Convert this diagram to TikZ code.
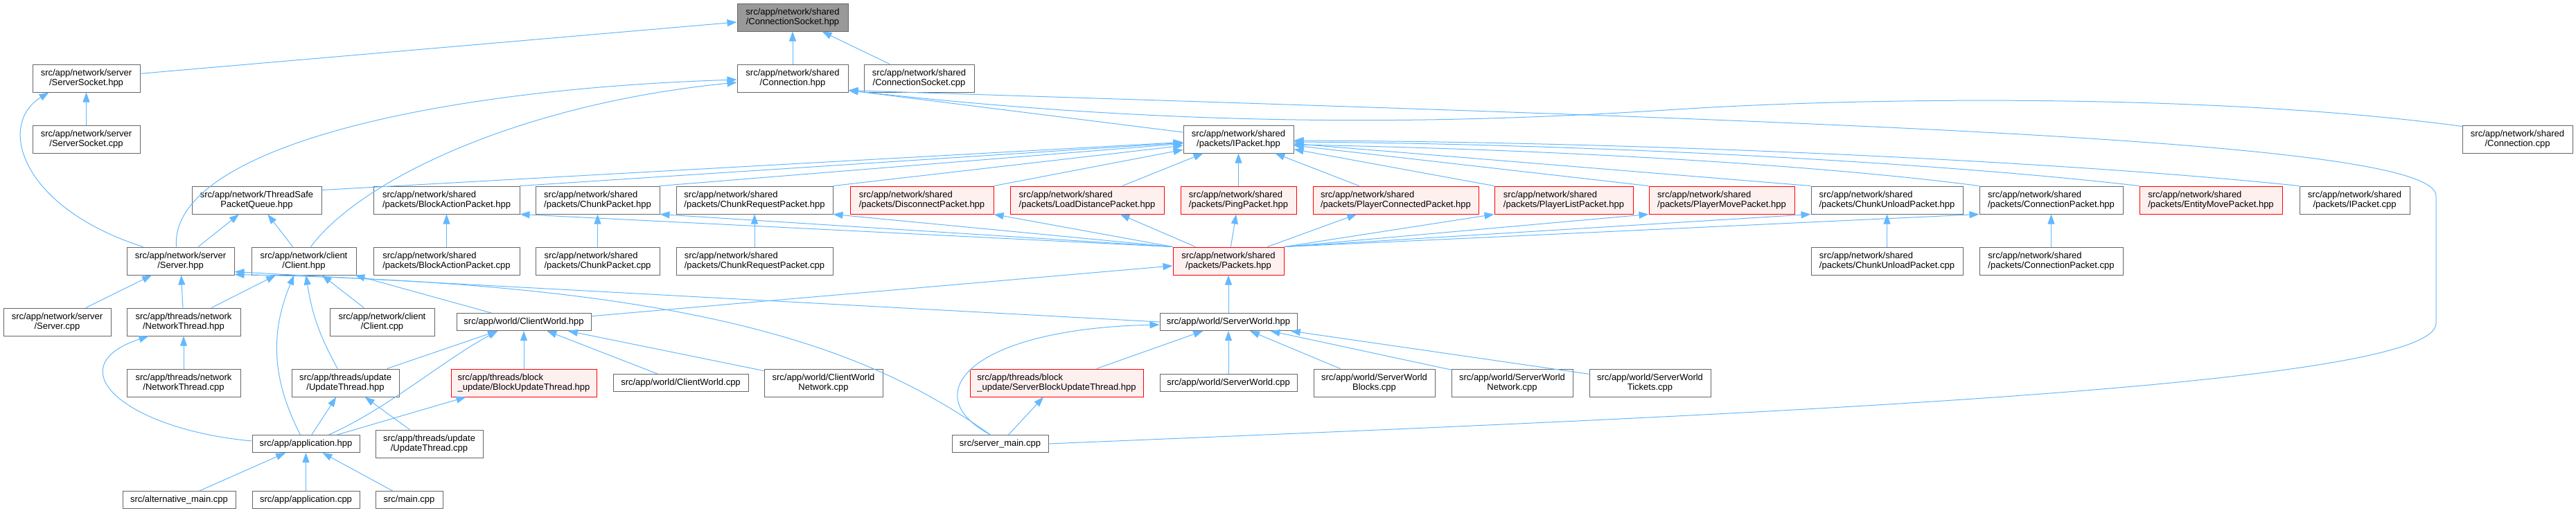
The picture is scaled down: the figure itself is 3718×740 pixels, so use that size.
\documentclass[tikz,border=0pt]{standalone}
\usepackage{fontspec}
\setmainfont{Liberation Sans}
\usepackage{xcolor}
\usepackage{tikz}
\usetikzlibrary{arrows.meta}
\definecolor{edgeblue}{HTML}{63B8FF}
\definecolor{boxborder}{HTML}{666666}
\definecolor{rootgray}{HTML}{999999}
\definecolor{truncred}{HTML}{FF0000}
\definecolor{truncfill}{HTML}{FFF0F0}
\newcommand{\filefont}{\fontsize{13}{14.7}\selectfont}

\begin{document}
\begin{tikzpicture}[x=1pt, y=-1pt,
  filebox/.style={draw=boxborder, fill=white, line width=1pt, inner sep=0pt, minimum height=40pt, font=\filefont, align=center},
  onebox/.style={filebox, minimum height=25pt},
  redbox/.style={draw=truncred, fill=truncfill},
  rootbox/.style={fill=rootgray},
  lalign/.style={align=left},
  incl/.style={draw=edgeblue, line width=1pt, -{Triangle[length=14pt, width=10pt]}}]
  \useasboundingbox (0,0) rectangle (3718,740);

  \node[filebox, rootbox, minimum width=160pt] (csHpp) at (1144,25) {src/app/network/shared\\/ConnectionSocket.hpp};

  \node[filebox, minimum width=155pt] (ssHpp) at (124.5,113) {src/app/network/server\\/ServerSocket.hpp};
  \node[filebox, minimum width=160pt] (connHpp) at (1144,113) {src/app/network/shared\\/Connection.hpp};
  \node[filebox, minimum width=159pt] (csCpp) at (1326.5,113) {src/app/network/shared\\/ConnectionSocket.cpp};

  \node[filebox, minimum width=155pt] (ssCpp) at (124.5,201) {src/app/network/server\\/ServerSocket.cpp};
  \node[filebox, minimum width=159pt] (ipHpp) at (1787.5,201) {src/app/network/shared\\/packets/IPacket.hpp};
  \node[filebox, minimum width=159pt] (connCpp) at (3633.5,201) {src/app/network/shared\\/Connection.cpp};

  \node[filebox, minimum width=187pt] (tsq) at (370.5,289) {src/app/network/ThreadSafe\\PacketQueue.hpp};
  \node[filebox, lalign, minimum width=211pt] (baHpp) at (644.5,289) {src/app/network/shared\\/packets/BlockActionPacket.hpp};
  \node[filebox, lalign, minimum width=179pt] (ckHpp) at (862.5,289) {src/app/network/shared\\/packets/ChunkPacket.hpp};
  \node[filebox, lalign, minimum width=226pt] (crHpp) at (1089,289) {src/app/network/shared\\/packets/ChunkRequestPacket.hpp};
  \node[filebox, redbox, lalign, minimum width=207pt] (dcHpp) at (1330.5,289) {src/app/network/shared\\/packets/DisconnectPacket.hpp};
  \node[filebox, redbox, lalign, minimum width=222pt] (ldHpp) at (1569,289) {src/app/network/shared\\/packets/LoadDistancePacket.hpp};
  \node[filebox, redbox, lalign, minimum width=167pt] (pgHpp) at (1787.5,289) {src/app/network/shared\\/packets/PingPacket.hpp};
  \node[filebox, redbox, lalign, minimum width=239pt] (pcHpp) at (2014.5,289) {src/app/network/shared\\/packets/PlayerConnectedPacket.hpp};
  \node[filebox, redbox, lalign, minimum width=200pt] (plHpp) at (2257,289) {src/app/network/shared\\/packets/PlayerListPacket.hpp};
  \node[filebox, redbox, lalign, minimum width=210pt] (pmHpp) at (2485,289) {src/app/network/shared\\/packets/PlayerMovePacket.hpp};
  \node[filebox, lalign, minimum width=219pt] (cuHpp) at (2723.5,289) {src/app/network/shared\\/packets/ChunkUnloadPacket.hpp};
  \node[filebox, lalign, minimum width=207pt] (cpHpp) at (2960.5,289) {src/app/network/shared\\/packets/ConnectionPacket.hpp};
  \node[filebox, redbox, lalign, minimum width=206pt] (emHpp) at (3191,289) {src/app/network/shared\\/packets/EntityMovePacket.hpp};
  \node[filebox, minimum width=159pt] (ipCpp) at (3398.5,289) {src/app/network/shared\\/packets/IPacket.cpp};

  \node[filebox, minimum width=155pt] (srvHpp) at (260.5,377) {src/app/network/server\\/Server.hpp};
  \node[filebox, minimum width=151pt] (cliHpp) at (438.5,377) {src/app/network/client\\/Client.hpp};
  \node[filebox, lalign, minimum width=211pt] (baCpp) at (644.5,377) {src/app/network/shared\\/packets/BlockActionPacket.cpp};
  \node[filebox, lalign, minimum width=179pt] (ckCpp) at (862.5,377) {src/app/network/shared\\/packets/ChunkPacket.cpp};
  \node[filebox, lalign, minimum width=226pt] (crCpp) at (1089,377) {src/app/network/shared\\/packets/ChunkRequestPacket.cpp};
  \node[filebox, redbox, minimum width=160pt] (pkHpp) at (1773,377) {src/app/network/shared\\/packets/Packets.hpp};
  \node[filebox, lalign, minimum width=219pt] (cuCpp) at (2723.5,377) {src/app/network/shared\\/packets/ChunkUnloadPacket.cpp};
  \node[filebox, lalign, minimum width=207pt] (cpCpp) at (2960.5,377) {src/app/network/shared\\/packets/ConnectionPacket.cpp};

  \node[filebox, minimum width=155pt] (srvCpp) at (82.5,465) {src/app/network/server\\/Server.cpp};
  \node[filebox, minimum width=164pt] (ntHpp) at (265,465) {src/app/threads/network\\/NetworkThread.hpp};
  \node[filebox, minimum width=151pt] (cliCpp) at (551.5,465) {src/app/network/client\\/Client.cpp};
  \node[onebox, minimum width=194pt] (cwHpp) at (756,465) {src/app/world/ClientWorld.hpp};
  \node[onebox, minimum width=198pt] (swHpp) at (1773,465) {src/app/world/ServerWorld.hpp};

  \node[filebox, minimum width=164pt] (ntCpp) at (265,553) {src/app/threads/network\\/NetworkThread.cpp};
  \node[filebox, minimum width=155pt] (utHpp) at (498.5,553) {src/app/threads/update\\/UpdateThread.hpp};
  \node[filebox, redbox, lalign, minimum width=210pt] (buHpp) at (756,553) {src/app/threads/block\\\_update/BlockUpdateThread.hpp};
  \node[onebox, minimum width=195pt] (cwCpp) at (982.5,553) {src/app/world/ClientWorld.cpp};
  \node[filebox, minimum width=171pt] (cwnCpp) at (1188.5,553) {src/app/world/ClientWorld\\Network.cpp};
  \node[filebox, redbox, lalign, minimum width=250pt] (sbuHpp) at (1525,553) {src/app/threads/block\\\_update/ServerBlockUpdateThread.hpp};
  \node[onebox, minimum width=198pt] (swCpp) at (1773,553) {src/app/world/ServerWorld.cpp};
  \node[filebox, minimum width=175pt] (swbCpp) at (1983.5,553) {src/app/world/ServerWorld\\Blocks.cpp};
  \node[filebox, minimum width=175pt] (swnCpp) at (2182.5,553) {src/app/world/ServerWorld\\Network.cpp};
  \node[filebox, minimum width=175pt] (swtCpp) at (2381.5,553) {src/app/world/ServerWorld\\Tickets.cpp};

  \node[onebox, minimum width=155pt] (appHpp) at (441.5,641) {src/app/application.hpp};
  \node[filebox, minimum width=155pt] (utCpp) at (619.5,641) {src/app/threads/update\\/UpdateThread.cpp};
  \node[onebox, minimum width=139pt] (smCpp) at (1443.5,641) {src/server\_main.cpp};

  \node[onebox, minimum width=163pt] (amCpp) at (258.5,722) {src/alternative\_main.cpp};
  \node[onebox, minimum width=155pt] (appCpp) at (441.5,722) {src/app/application.cpp};
  \node[onebox, minimum width=97pt] (mainCpp) at (590.5,722) {src/main.cpp};

  \draw[incl] (ssHpp) -- (csHpp);
  \draw[incl] (connHpp) -- (csHpp);
  \draw[incl] (csCpp) -- (csHpp);
  \draw[incl] (ssCpp) -- (ssHpp);
  \draw[incl] ([xshift=24pt]srvHpp.north west) .. controls (30,300) and (-5,180) .. ([xshift=24pt]ssHpp.south west);

  \draw[incl] ([xshift=-6pt]srvHpp.north) .. controls (245,220) and (600,130) .. ([yshift=-2pt]connHpp.west);
  \draw[incl] ([xshift=10pt]cliHpp.north) .. controls (520,260) and (750,150) .. ([yshift=-6pt]connHpp.west);
  \draw[incl] (ipHpp) -- ([yshift=3pt]connHpp.south east);
  \draw[incl] ([yshift=-2pt]connCpp.north west) .. controls (3200,135) and (2700,140) .. (2420,158)
    .. controls (2140,176) and (1750,190) .. ([yshift=3pt]connHpp.south east);
  \draw[incl] (smCpp.east) .. controls (2500,600) and (3516,560) .. (3516,467) -- (3516,283)
    .. controls (3516,200) and (2600,175) .. ([yshift=3pt]connHpp.south east);

  \draw[incl] ([yshift=-6pt]tsq.north east) -- (ipHpp);
  \draw[incl] (baHpp.north east) -- (ipHpp);
  \draw[incl] (ckHpp.north east) -- (ipHpp);
  \draw[incl] (crHpp.north east) -- (ipHpp);
  \draw[incl] (dcHpp.north east) -- (ipHpp);
  \draw[incl] (ldHpp) -- (ipHpp);
  \draw[incl] (pgHpp) -- (ipHpp);
  \draw[incl] (pcHpp) -- (ipHpp);
  \draw[incl] (plHpp.north west) -- (ipHpp);
  \draw[incl] (pmHpp.north west) -- (ipHpp);
  \draw[incl] (cuHpp.north west) -- (ipHpp);
  \draw[incl] (cpHpp.north west) .. controls (2600,235) and (2200,215) .. ([yshift=-8pt]ipHpp.east);
  \draw[incl] (emHpp.north west) .. controls (2800,235) and (2300,208) .. ([yshift=-4pt]ipHpp.east);
  \draw[incl] (ipCpp.north west) .. controls (3000,235) and (2400,205) .. ([yshift=-2pt]ipHpp.east);

  \draw[incl] (pkHpp.north west) -- (baHpp.south east);
  \draw[incl] (pkHpp.north west) -- (ckHpp.south east);
  \draw[incl] (pkHpp.north west) -- (crHpp.south east);
  \draw[incl] (pkHpp.north west) -- (dcHpp.south east);
  \draw[incl] (pkHpp) -- (ldHpp);
  \draw[incl] (pkHpp) -- (pgHpp);
  \draw[incl] (pkHpp) -- (pcHpp);
  \draw[incl] (pkHpp.north east) -- (plHpp.south west);
  \draw[incl] (pkHpp.north east) -- (pmHpp.south west);
  \draw[incl] (pkHpp.north east) -- (cuHpp.south west);
  \draw[incl] (pkHpp.north east) -- (cpHpp.south west);

  \draw[incl] (baCpp) -- (baHpp);
  \draw[incl] (ckCpp) -- (ckHpp);
  \draw[incl] (crCpp) -- (crHpp);
  \draw[incl] (cuCpp) -- (cuHpp);
  \draw[incl] (cpCpp) -- (cpHpp);

  \draw[incl] (srvHpp) -- (tsq);
  \draw[incl] (cliHpp) -- (tsq);
  \draw[incl] (srvCpp) -- (srvHpp);
  \draw[incl] (ntHpp) -- (srvHpp);
  \draw[incl] (ntHpp) -- (cliHpp);
  \draw[incl] (cliCpp) -- (cliHpp);
  \draw[incl] (swHpp.west) -- ([yshift=5pt]srvHpp.south east);
  \draw[incl] ([xshift=-14pt]smCpp.north) .. controls (1250,500) and (1000,410) .. ([yshift=1pt]srvHpp.south east);
  \draw[incl] (cwHpp) -- (cliHpp);
  \draw[incl] (utHpp) to[bend left=10] (cliHpp);
  \draw[incl] ([xshift=-8pt]appHpp.north) to[bend left=25] ([xshift=-14pt]cliHpp.south);
  \draw[incl] ([yshift=4pt]appHpp.west) .. controls (180,620) and (80,530) .. ([xshift=32pt]ntHpp.south west);
  \draw[incl] (appHpp) -- (utHpp);
  \draw[incl] ([xshift=-45pt]appHpp.north east) .. controls (560,590) and (640,520) .. ([xshift=60pt]cwHpp.south west);
  \draw[incl] ([xshift=-33pt]appHpp.north east) -- ([xshift=22pt]buHpp.south west);
  \draw[incl] (utHpp) -- (cwHpp);
  \draw[incl] (buHpp) -- (cwHpp);
  \draw[incl] (cwCpp) -- (cwHpp);
  \draw[incl] (cwnCpp) -- (cwHpp);
  \draw[incl] (utCpp) -- (utHpp);
  \draw[incl] (ntCpp) -- (ntHpp);
  \draw[incl] (cwHpp) -- (pkHpp);
  \draw[incl] (swHpp) -- (pkHpp);

  \draw[incl] ([xshift=-14pt]smCpp.north) .. controls (1320,570) and (1400,475) .. ([yshift=-4pt]swHpp.west);
  \draw[incl] (smCpp) -- (sbuHpp);
  \draw[incl] (sbuHpp) -- (swHpp);
  \draw[incl] (swCpp) -- (swHpp);
  \draw[incl] (swbCpp) -- (swHpp);
  \draw[incl] (swnCpp) -- (swHpp);
  \draw[incl] (swtCpp) -- (swHpp);

  \draw[incl] (amCpp) -- (appHpp);
  \draw[incl] (appCpp) -- (appHpp);
  \draw[incl] (mainCpp) -- (appHpp);
\end{tikzpicture}
\end{document}
